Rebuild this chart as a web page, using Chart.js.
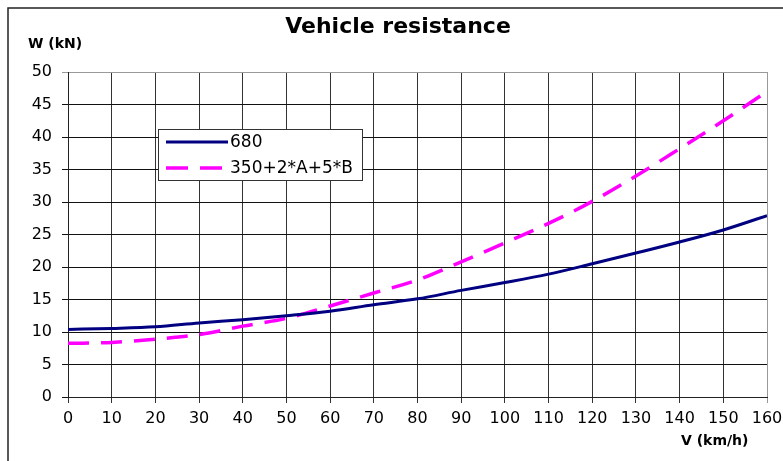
<!DOCTYPE html>
<html>
<head>
<meta charset="utf-8">
<script src="https://cdn.jsdelivr.net/npm/chart.js@4"></script>
<style>
	html, body { margin: 0; padding: 0; background: #fff; }
	canvas { display: block; }
</style>
</head>
<body>
<canvas id="resistanceChart" width="783" height="461"></canvas>
<script>
// Dữ liệu
const speeds = [0, 10, 20, 30, 40, 50, 60, 70, 80, 90, 100, 110, 120, 130, 140, 150, 160];
const res680 = [10.4, 10.55, 10.8, 11.4, 11.9, 12.5, 13.2, 14.2, 15.1, 16.4, 17.6, 18.9, 20.5, 22.15, 23.85, 25.7, 27.9];
const resMix = [8.25, 8.4, 8.9, 9.6, 10.9, 12.1, 14.0, 16.0, 18.0, 20.8, 23.7, 26.7, 30.1, 34.0, 38.2, 42.5, 47.0];
const seriesLabels = ["680", "350+2*A+5*B"];
const chartTitle = "Vehicle resistance";
const yTitle = "W (kN)";
const xTitle = "V (km/h)";

const FONT = "'DejaVu Sans', 'Liberation Sans', Arial, sans-serif";

// Khung ngoài, tiêu đề, tên trục và chú giải tự vẽ
const decorPlugin = {
	id: "decor",
	beforeDraw(chart) {
		const ctx = chart.ctx;
		ctx.save();
		ctx.fillStyle = "#fff";
		ctx.fillRect(0, 0, chart.width, chart.height);
		ctx.strokeStyle = "#222";
		ctx.lineWidth = 1.5;
		ctx.strokeRect(8, 8, 900, 600);
		ctx.restore();
	},
	afterDraw(chart) {
		const ctx = chart.ctx;
		ctx.save();
		ctx.fillStyle = "#000";
		ctx.textBaseline = "middle";

		ctx.font = "bold 22px " + FONT;
		ctx.textAlign = "center";
		ctx.fillText(chartTitle, 398, 27);

		ctx.font = "bold 14px " + FONT;
		ctx.textAlign = "left";
		ctx.fillText(yTitle, 28, 44);
		ctx.fillText(xTitle, 681, 441);

		// chú giải
		const ds = chart.data.datasets;
		ctx.fillStyle = "#fff";
		ctx.fillRect(158.5, 129.5, 204, 51);
		ctx.strokeStyle = "#333";
		ctx.lineWidth = 1;
		ctx.strokeRect(158.5, 129.5, 204, 51);

		const rows = [142, 168];
		ds.forEach((d, i) => {
			ctx.beginPath();
			ctx.strokeStyle = d.borderColor;
			ctx.lineWidth = d.borderWidth;
			ctx.setLineDash(i === 1 ? [22, 12] : []);
			ctx.moveTo(166, rows[i]);
			ctx.lineTo(i === 1 ? 225 : 228, rows[i]);
			ctx.stroke();
			ctx.setLineDash([]);
			ctx.fillStyle = "#000";
			ctx.font = "17px " + FONT;
			ctx.textAlign = "left";
			ctx.fillText(d.label, 230, rows[i] + 1);
		});
		ctx.restore();
	},
};

const ctx = document.getElementById("resistanceChart").getContext("2d");
new Chart(ctx, {
	type: "line",
	data: {
		labels: speeds,
		datasets: [
			{
				label: seriesLabels[0],
				data: speeds.map((v, i) => ({ x: v, y: res680[i] })),
				borderColor: "#000080",
				borderWidth: 3,
				pointRadius: 0,
				tension: 0.4,
				cubicInterpolationMode: "monotone",
				fill: false,
			},
			{
				label: seriesLabels[1],
				data: speeds.map((v, i) => ({ x: v, y: resMix[i] })),
				borderColor: "#ff00ff",
				borderWidth: 3.5,
				borderDash: [21, 12],
				pointRadius: 0,
				tension: 0.4,
				cubicInterpolationMode: "monotone",
				fill: false,
			},
		],
	},
	options: {
		responsive: false,
		animation: false,
		layout: { padding: { top: 72, right: 16, left: 0, bottom: 0 } },
		scales: {
			x: {
				type: "linear",
				min: 0,
				max: 160,
				afterFit: (s) => { s.height = 64; s.paddingLeft = 0; s.paddingRight = 0; },
				ticks: {
					stepSize: 10,
					padding: 6,
					color: "#000",
					font: { family: FONT, size: 16 },
					maxRotation: 0,
					autoSkip: false,
				},
				grid: {
					color: (c) => (c.tick && c.tick.value === 160 ? "#999" : "#333"),
					lineWidth: 1,
					tickLength: 6,
				},
				border: { color: "#222", width: 1 },
			},
			y: {
				min: 0,
				max: 50,
				afterFit: (s) => { s.width = 68; },
				ticks: {
					stepSize: 5,
					padding: 10,
					color: "#000",
					font: { family: FONT, size: 16 },
				},
				grid: {
					color: (c) => (c.tick && c.tick.value === 50 ? "#999" : "#111"),
					lineWidth: 1,
					tickLength: 6,
				},
				border: { color: "#222", width: 1 },
			},
		},
		plugins: {
			legend: { display: false },
			title: { display: false },
			tooltip: { enabled: false },
		},
	},
	plugins: [decorPlugin],
});
</script>
</body>
</html>
